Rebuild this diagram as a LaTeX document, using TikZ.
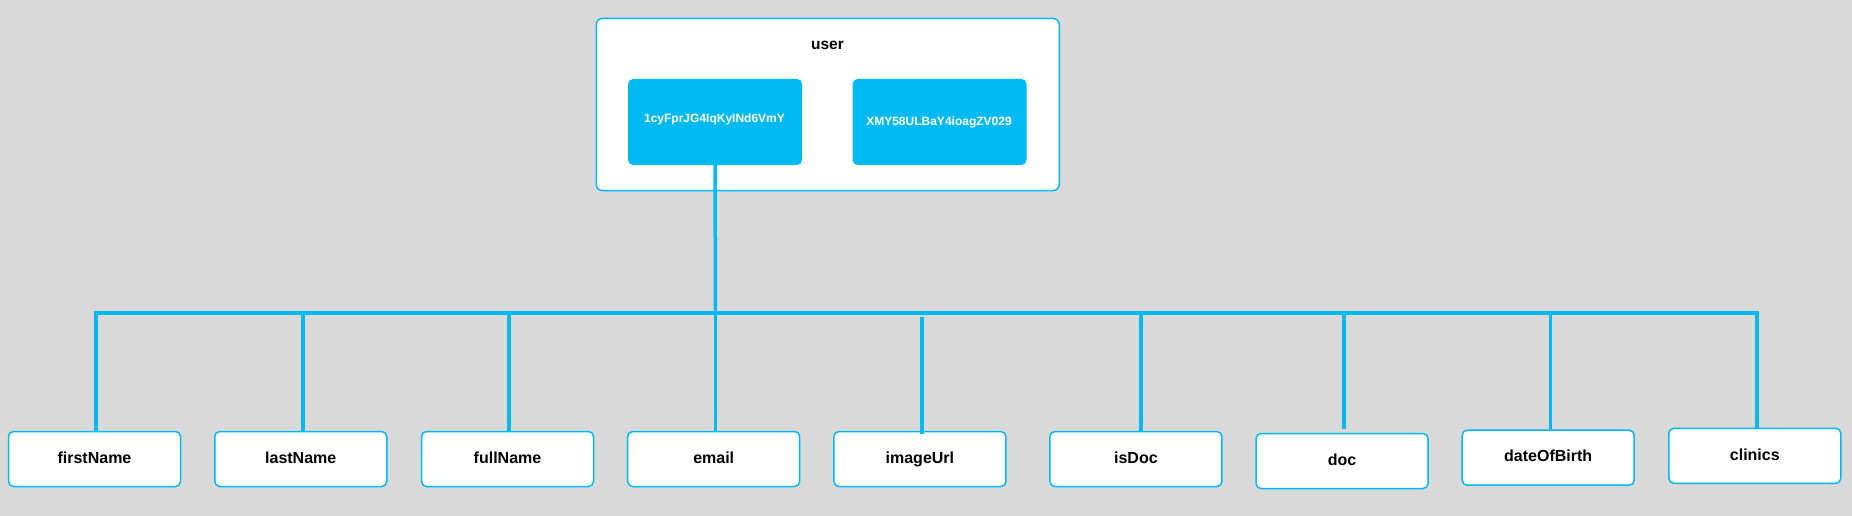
\documentclass[tikz,border=0pt]{standalone}
\usepackage{fontspec}
\setmainfont{Liberation Sans}
\definecolor{bg}{HTML}{D9D9D9}
\definecolor{cyanb}{HTML}{00B9F2}
\begin{document}
\begin{tikzpicture}[x=1pt,y=-1pt,
  field/.style={draw=cyanb, line width=1.5pt, fill=white, rounded corners=5pt,
    minimum width=172pt, minimum height=55pt, inner sep=0pt,
    text height=11.5pt, text depth=3pt,
    font=\bfseries\fontsize{16}{19}\selectfont},
  idbox/.style={fill=cyanb, rounded corners=5pt, minimum width=174pt, minimum height=86pt,
    inner sep=0pt},
  idtext/.style={inner sep=0pt, text=white, text height=9pt, text depth=0pt,
    font=\bfseries\fontsize{12}{14}\selectfont},
  outer/.style={draw=cyanb, line width=1.5pt, fill=white, rounded corners=6pt,
    minimum width=463pt, minimum height=172pt, inner sep=0pt},
  bar/.style={draw=cyanb, line width=4pt},
  stem/.style={draw=cyanb, line width=3.5pt}]
\fill[bg] (0,0) rectangle (1852,516);
\useasboundingbox (0,0) rectangle (1852,516);

% top container
\node[outer] (user) at (827.75,104.5) {};
\node[font=\bfseries\fontsize{15.5}{18}\selectfont, inner sep=0pt] (usert) at (827.5,45) {user};
\node[idbox] (id1) at (715,122) {};
\node[idbox] (id2) at (939.5,122) {};
\node[idtext] (id1t) at (714.5,118.5) {1cyFprJG4IqKyINd6VmY};
\node[idtext] (id2t) at (939,120.5) {XMY58ULBaY4ioagZV029};

% fields
\node[field] (f1) at (94.5,459) {firstName};
\node[field] (f2) at (300.75,459) {lastName};
\node[field] (f3) at (507.5,459) {fullName};
\node[field] (f4) at (713.7,459) {email};
\node[field] (f5) at (919.9,459) {imageUrl};
\node[field] (f6) at (1135.9,459) {isDoc};
\node[field] (f7) at (1342,461) {doc};
\node[field] (f8) at (1548.2,457.7) {dateOfBirth};
\node[field] (f9) at (1754.8,455.8) {clinics};

% bar coordinates
\coordinate (b1) at (96,313);
\coordinate (b2) at (303,313);
\coordinate (b3) at (509,313);
\coordinate (b4) at (715.5,313);
\coordinate (b5) at (922,317);
\coordinate (b6) at (1141,313);
\coordinate (b7) at (1344,313);
\coordinate (b8) at (1550.5,313);
\coordinate (b9) at (1757,313);

\draw[stem] (id1.south) -- (b4);
\draw[bar, line cap=rect] (b1) -- (b9);
\draw[stem] (b1) -- (b1 |- f1.north);
\draw[stem] (b2) -- (b2 |- f2.north);
\draw[stem] (b3) -- (b3 |- f3.north);
\draw[stem] (b4) -- (b4 |- f4.north);
\draw[stem] (b5) -- ([yshift=-3pt]b5 |- f5.north);
\draw[stem] (b6) -- (b6 |- f6.north);
\draw[stem] (b7) -- ([yshift=4pt]b7 |- f7.north);
\draw[stem] (b8) -- (b8 |- f8.north);
\draw[stem] (b9) -- (b9 |- f9.north);
\end{tikzpicture}
\end{document}
